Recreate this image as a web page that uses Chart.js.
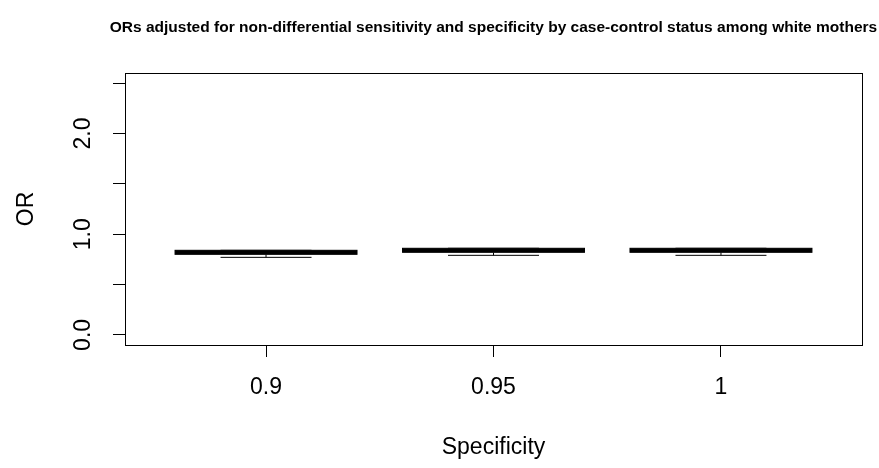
<!DOCTYPE html>
<html lang="en">
<head>
  <meta charset="UTF-8">
  <title>ORs adjusted for non-differential sensitivity and specificity</title>
  <script src="https://cdn.jsdelivr.net/npm/chart.js"></script>
  <style>
    html, body { margin: 0; padding: 0; background: #fff; }
    #wrap { width: 879px; height: 468px; }
  </style>
</head>
<body>
  <div id="wrap"><canvas id="orChart" width="879" height="468"></canvas></div>

  <script>
    // data
    const specificity = ['0.9', '0.95', '1'];
    const whiskerLow = [0.77, 0.79, 0.79];
    const q1 = [0.80, 0.82, 0.82];
    const median = [0.82, 0.84, 0.84];
    const q3 = [0.84, 0.86, 0.86];
    const whiskerHigh = [0.84, 0.86, 0.86];
    const yTicks = [0, 0.5, 1, 1.5, 2, 2.5];
    const yLabels = ['0.0', '', '1.0', '', '2.0', ''];
    const titleText = 'ORs adjusted for non-differential sensitivity and specificity by case-control status among white mothers';

    const font = 'Liberation Sans, Arial, sans-serif';

    // draws R-style boxes, plot frame and main title
    const boxplotPlugin = {
      id: 'boxplot',
      afterDatasetsDraw(chart) {
        const { ctx, chartArea, scales } = chart;
        const x = scales.x, y = scales.y;
        ctx.save();
        ctx.strokeStyle = '#000';
        for (let i = 0; i < specificity.length; i++) {
          const c = x.getPixelForValue(i + 1);
          const bl = x.getPixelForValue(i + 1 - 0.4);
          const br = x.getPixelForValue(i + 1 + 0.4);
          const sl = x.getPixelForValue(i + 1 - 0.2);
          const sr = x.getPixelForValue(i + 1 + 0.2);
          const yLo = y.getPixelForValue(whiskerLow[i]);
          const yQ1 = y.getPixelForValue(q1[i]);
          const yMed = y.getPixelForValue(median[i]);
          const yQ3 = y.getPixelForValue(q3[i]);
          const yHi = y.getPixelForValue(whiskerHigh[i]);

          // whiskers (dashed)
          ctx.lineWidth = 1;
          ctx.setLineDash([4, 4]);
          ctx.beginPath();
          ctx.moveTo(c, yQ1); ctx.lineTo(c, yLo);
          ctx.moveTo(c, yQ3); ctx.lineTo(c, yHi);
          ctx.stroke();
          ctx.setLineDash([]);

          // staples
          ctx.beginPath();
          ctx.moveTo(sl, yLo); ctx.lineTo(sr, yLo);
          ctx.moveTo(sl, yHi); ctx.lineTo(sr, yHi);
          ctx.stroke();

          // box
          ctx.fillStyle = '#fff';
          ctx.fillRect(bl, yQ3, br - bl, yQ1 - yQ3);
          ctx.strokeRect(bl, yQ3, br - bl, yQ1 - yQ3);

          // median
          ctx.lineWidth = 4;
          ctx.beginPath();
          ctx.moveTo(bl, yMed); ctx.lineTo(br, yMed);
          ctx.stroke();
        }

        // frame
        ctx.lineWidth = 1;
        ctx.strokeStyle = '#000';
        ctx.strokeRect(Math.round(chartArea.left) + 0.5, Math.round(chartArea.top) + 0.5,
          Math.round(chartArea.right - chartArea.left), Math.round(chartArea.bottom - chartArea.top));

        // main title
        ctx.fillStyle = '#000';
        ctx.font = 'bold 15.5px ' + font;
        ctx.textAlign = 'center';
        ctx.textBaseline = 'middle';
        ctx.fillText(titleText, (chartArea.left + chartArea.right) / 2, 28);
        ctx.restore();
      }
    };

    new Chart(document.getElementById('orChart'), {
      type: 'scatter',
      data: {
        datasets: [{
          data: median.map((m, i) => ({ x: i + 1, y: m })),
          pointRadius: 0,
          showLine: false
        }]
      },
      options: {
        responsive: false,
        animation: false,
        layout: { padding: { top: 73, right: 17, bottom: 0, left: 0 } },
        plugins: {
          legend: { display: false },
          tooltip: { enabled: false }
        },
        scales: {
          x: {
            type: 'linear',
            min: 0.38,
            max: 3.62,
            afterBuildTicks: s => { s.ticks = specificity.map((_, i) => ({ value: i + 1 })); },
            afterFit: s => { s.height = 123; },
            grid: { drawOnChartArea: false, drawTicks: true, tickLength: 12, color: '#000' },
            border: { display: false },
            ticks: {
              color: '#000',
              font: { family: font, size: 23 },
              padding: 17,
              maxRotation: 0,
              callback: (v) => specificity[v - 1]
            },
            title: {
              display: true,
              text: 'Specificity',
              color: '#000',
              font: { family: font, size: 23 },
              padding: { top: 0, bottom: 7 }
            }
          },
          y: {
            min: -0.1,
            max: 2.6,
            afterBuildTicks: s => { s.ticks = yTicks.map(v => ({ value: v })); },
            afterFit: s => { s.width = 125; },
            grid: { drawOnChartArea: false, drawTicks: true, tickLength: 12, color: '#000' },
            border: { display: false },
            ticks: {
              color: '#000',
              font: { family: font, size: 23 },
              padding: 13,
              minRotation: 90,
              maxRotation: 90,
              crossAlign: 'center',
              callback: (v) => yLabels[yTicks.indexOf(v)]
            },
            title: {
              display: true,
              text: 'OR',
              color: '#000',
              font: { family: font, size: 23 },
              padding: { top: 13, bottom: 0 }
            }
          }
        }
      },
      plugins: [boxplotPlugin]
    });
  </script>
</body>
</html>
